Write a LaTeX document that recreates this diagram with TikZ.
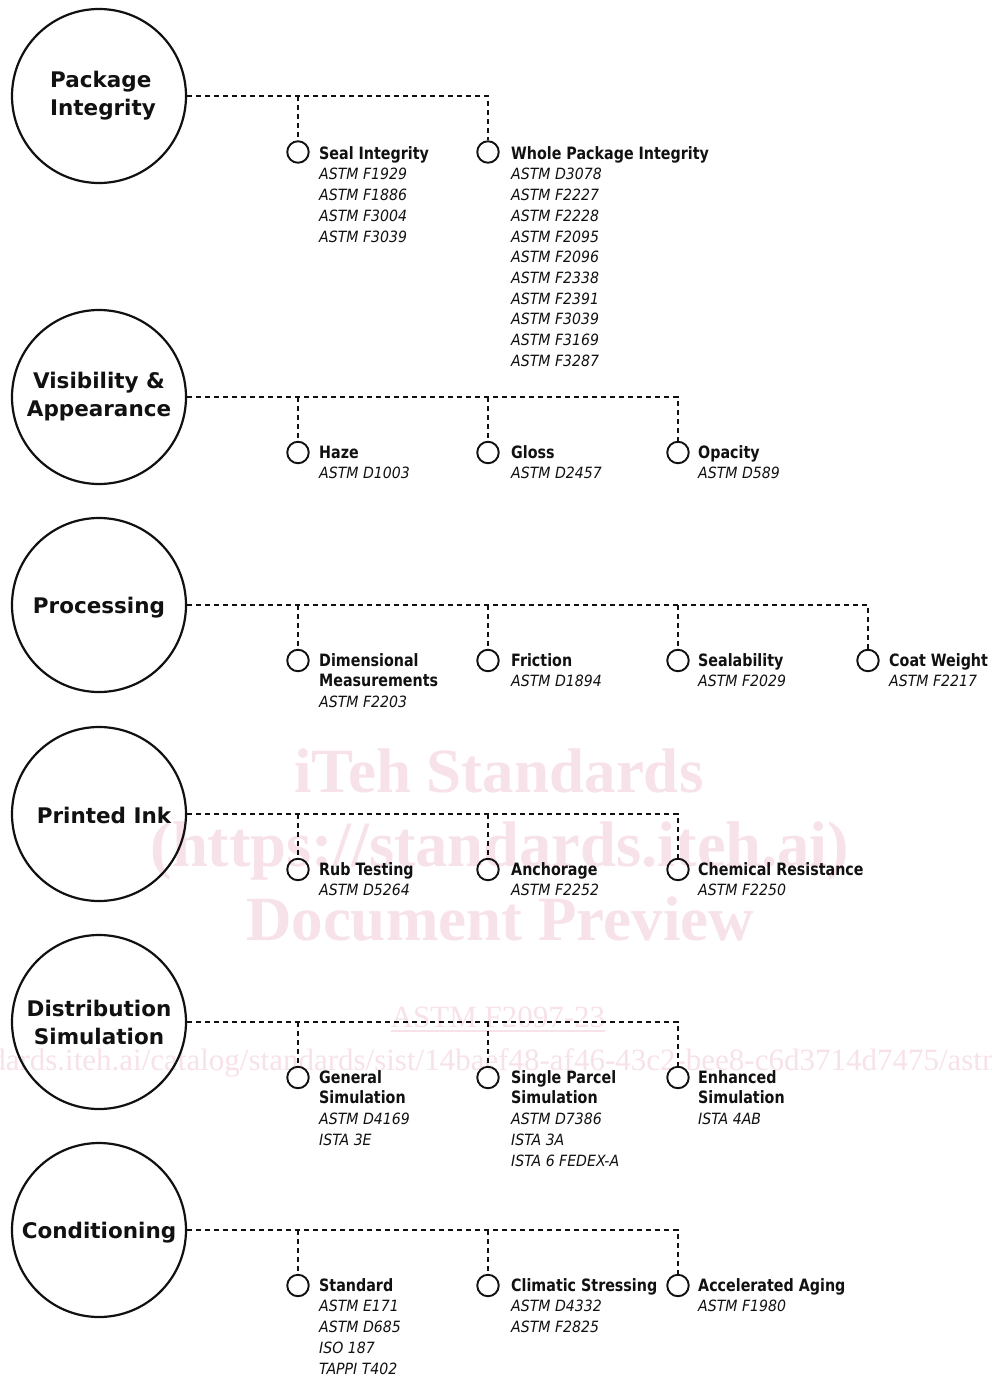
\documentclass[tikz,border=0pt]{standalone}
\usepackage{fontspec}
\setmainfont{DejaVu Sans}
\newfontfamily\bigfont{DejaVu Sans}
\newfontfamily\hfont[FakeStretch=0.84]{DejaVu Sans}
\newfontfamily\ifont[FakeStretch=0.91]{DejaVu Sans}
\newfontfamily\wmfont{Liberation Serif}
\definecolor{wm}{RGB}{248,226,233}
\definecolor{ink}{RGB}{17,17,17}
\newcommand\hd[1]{{\hfont\bfseries\fontsize{17}{20.7}\selectfont #1}}
\newcommand\sd[1]{{\ifont\itshape\fontsize{15.5}{20.7}\selectfont #1}}
\newcommand\fst{\rule{0pt}{14pt}}
\newcommand\lowr[2]{\raisebox{-#1}[\height][\depth]{#2}}
\tikzset{
  bigc/.style={circle, draw=ink, line width=2.2pt, minimum size=174pt, inner sep=0pt,
    text=ink, font=\bigfont\bfseries\fontsize{21.5}{28}\selectfont, align=center},
  smallc/.style={circle, draw=ink, line width=1.9pt, minimum size=21.5pt, inner sep=0pt},
  dl/.style={draw=ink, line width=1.8pt, dash pattern=on 5pt off 4pt},
  item/.style={anchor=north west, inner sep=0pt, align=left, text=ink,
    font=\fontsize{15.5}{20.7}\selectfont},
  wmtext/.style={text=wm, inner sep=0pt, anchor=base},
}
\begin{document}
\begin{tikzpicture}[x=1pt,y=-1pt]
\useasboundingbox (0,0) rectangle (992,1376);
\clip (0,0) rectangle (992,1376);
\fill[white] (0,0) rectangle (992,1376);
% watermark
\node[wmtext, font=\wmfont\bfseries\fontsize{63}{63}\selectfont] (wm1) at (499,792) {iTeh Standards};
\node[wmtext, font=\wmfont\bfseries\fontsize{64.5}{64}\selectfont] (wm2) at (500,866) {(https://standards.iteh.ai)};
\node[wmtext, font=\wmfont\bfseries\fontsize{63}{63}\selectfont] (wm3) at (500,940) {Document Preview};
\node[wmtext, font=\wmfont\fontsize{31}{31}\selectfont] (wm4) at (498,1027) {ASTM F2097-23};
\draw[wm, line width=1.5pt] ([yshift=-4pt]wm4.base west) -- ([yshift=-4pt]wm4.base east);
\node[wmtext, anchor=base west, font=\wmfont\fontsize{31}{31}\selectfont] (wm5) at (-146,1070)
  {https://standards.iteh.ai/catalog/standards/sist/14baef48-af46-43c2-bee8-c6d3714d7475/astm-f2097-23};

% ---------- Row 1: Package Integrity
\node[bigc, align=left] (pi) at (99,96) {\hspace*{8pt}Package\\\hspace*{8pt}Integrity};
\node[smallc] (s11) at (298,152) {};
\node[smallc] (s12) at (488,152) {};
\draw[dl] (pi.east) -| (s12.north);
\draw[dl] (s11.north |- pi.east) -- (s11.north);
\node[item] (t11) at ([xshift=21pt,yshift=7pt]s11.center)
  {\fst\hd{Seal Integrity}\\\sd{ASTM F1929}\\\sd{ASTM F1886}\\\sd{ASTM F3004}\\\sd{ASTM F3039}};
\node[item] (t12) at ([xshift=23pt,yshift=7pt]s12.center)
  {\fst\hd{Whole Package Integrity}\\\sd{ASTM D3078}\\\sd{ASTM F2227}\\\sd{ASTM F2228}\\\sd{ASTM F2095}\\\sd{ASTM F2096}\\\sd{ASTM F2338}\\\sd{ASTM F2391}\\\sd{ASTM F3039}\\\sd{ASTM F3169}\\\sd{ASTM F3287}};

% ---------- Row 2: Visibility & Appearance
\node[bigc] (va) at (99,397) {Visibility \&\\Appearance};
\node[smallc] (s21) at (298,452.5) {};
\node[smallc] (s22) at (488,452.5) {};
\node[smallc] (s23) at (678,452.5) {};
\draw[dl] (va.east) -| (s23.north);
\draw[dl] (s21.north |- va.east) -- (s21.north);
\draw[dl] (s22.north |- va.east) -- (s22.north);
\node[item] (t21) at ([xshift=21pt,yshift=8.5pt]s21.center) {\fst\hd{Haze}\\\sd{ASTM D1003}};
\node[item] (t22) at ([xshift=23pt,yshift=8.5pt]s22.center) {\fst\hd{Gloss}\\\sd{ASTM D2457}};
\node[item] (t23) at ([xshift=20pt,yshift=8.5pt]s23.center) {\fst\hd{Opacity}\\\sd{ASTM D589}};

% ---------- Row 3: Processing
\node[bigc] (pr) at (99,605) {\lowr{3pt}{Processing}};
\node[smallc] (s31) at (298,660.5) {};
\node[smallc] (s32) at (488,660.5) {};
\node[smallc] (s33) at (678,660.5) {};
\node[smallc] (s34) at (868,660.5) {};
\draw[dl] (pr.east) -| (s34.north);
\draw[dl] (s31.north |- pr.east) -- (s31.north);
\draw[dl] (s32.north |- pr.east) -- (s32.north);
\draw[dl] (s33.north |- pr.east) -- (s33.north);
\node[item] (t31) at ([xshift=21pt,yshift=8.5pt]s31.center) {\fst\hd{Dimensional}\\\hd{Measurements}\\\sd{ASTM F2203}};
\node[item] (t32) at ([xshift=23pt,yshift=8.5pt]s32.center) {\fst\hd{Friction}\\\sd{ASTM D1894}};
\node[item] (t33) at ([xshift=20pt,yshift=8.5pt]s33.center) {\fst\hd{Sealability}\\\sd{ASTM F2029}};
\node[item] (t34) at ([xshift=21pt,yshift=8.5pt]s34.center) {\fst\hd{Coat Weight}\\\sd{ASTM F2217}};

% ---------- Row 4: Printed Ink
\node[bigc] (pk) at (99,814) {\hspace*{10pt}\lowr{1.5pt}{Printed Ink}};
\node[smallc] (s41) at (298,869.5) {};
\node[smallc] (s42) at (488,869.5) {};
\node[smallc] (s43) at (678,869.5) {};
\draw[dl] (pk.east) -| (s43.north);
\draw[dl] (s41.north |- pk.east) -- (s41.north);
\draw[dl] (s42.north |- pk.east) -- (s42.north);
\node[item] (t41) at ([xshift=21pt,yshift=8.5pt]s41.center) {\fst\hd{Rub Testing}\\\sd{ASTM D5264}};
\node[item] (t42) at ([xshift=23pt,yshift=8.5pt]s42.center) {\fst\hd{Anchorage}\\\sd{ASTM F2252}};
\node[item] (t43) at ([xshift=20pt,yshift=8.5pt]s43.center) {\fst\hd{Chemical Resistance}\\\sd{ASTM F2250}};

% ---------- Row 5: Distribution Simulation
\node[bigc] (ds) at (99,1022) {Distribution\\Simulation};
\node[smallc] (s51) at (298,1077.5) {};
\node[smallc] (s52) at (488,1077.5) {};
\node[smallc] (s53) at (678,1077.5) {};
\draw[dl] (ds.east) -| (s53.north);
\draw[dl] (s51.north |- ds.east) -- (s51.north);
\draw[dl] (s52.north |- ds.east) -- (s52.north);
\node[item] (t51) at ([xshift=21pt,yshift=8.5pt]s51.center) {\fst\hd{General}\\\hd{Simulation}\\\sd{ASTM D4169}\\\sd{ISTA 3E}};
\node[item] (t52) at ([xshift=23pt,yshift=8.5pt]s52.center) {\fst\hd{Single Parcel}\\\hd{Simulation}\\\sd{ASTM D7386}\\\sd{ISTA 3A}\\\sd{ISTA 6 FEDEX-A}};
\node[item] (t53) at ([xshift=20pt,yshift=8.5pt]s53.center) {\fst\hd{Enhanced}\\\hd{Simulation}\\\sd{ISTA 4AB}};

% ---------- Row 6: Conditioning
\node[bigc] (cd) at (99,1230) {\lowr{2.5pt}{Conditioning}};
\node[smallc] (s61) at (298,1285.5) {};
\node[smallc] (s62) at (488,1285.5) {};
\node[smallc] (s63) at (678,1285.5) {};
\draw[dl] (cd.east) -| (s63.north);
\draw[dl] (s61.north |- cd.east) -- (s61.north);
\draw[dl] (s62.north |- cd.east) -- (s62.north);
\node[item] (t61) at ([xshift=21pt,yshift=8.5pt]s61.center) {\fst\hd{Standard}\\\sd{ASTM E171}\\\sd{ASTM D685}\\\sd{ISO 187}\\\sd{TAPPI T402}};
\node[item] (t62) at ([xshift=23pt,yshift=8.5pt]s62.center) {\fst\hd{Climatic Stressing}\\\sd{ASTM D4332}\\\sd{ASTM F2825}};
\node[item] (t63) at ([xshift=20pt,yshift=8.5pt]s63.center) {\fst\hd{Accelerated Aging}\\\sd{ASTM F1980}};
\end{tikzpicture}
\end{document}
